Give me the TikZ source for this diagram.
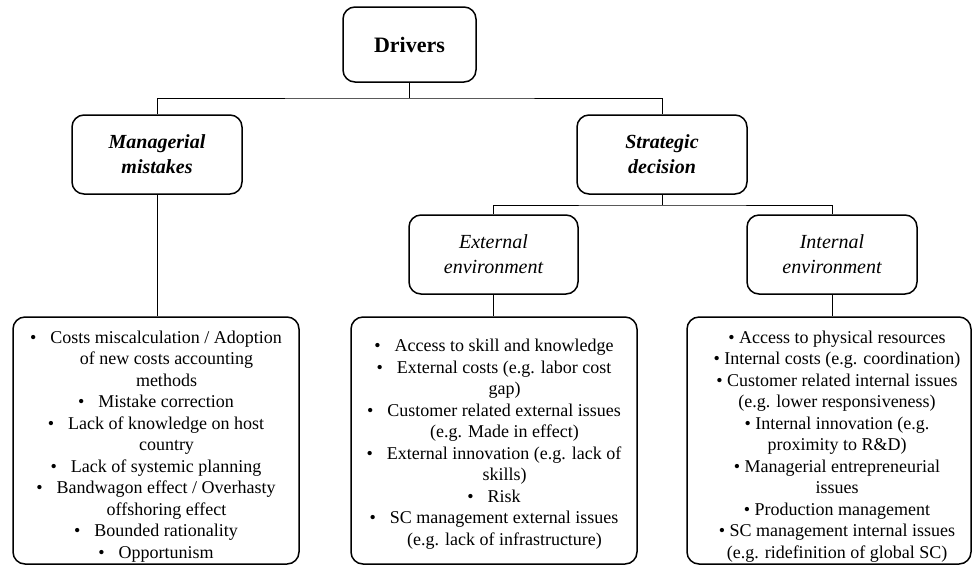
\documentclass[tikz,border=0pt]{standalone}
\usepackage{fontspec}
\setmainfont{Liberation Serif}
\newcommand\myb{\textbullet\hspace{14pt}}
\newcommand\myc{\hspace*{21pt}}
\newcommand\myr{\textbullet\ }
\begin{document}
\begin{tikzpicture}[x=1pt,y=-1pt,
  box/.style={draw, line width=1.5pt, rounded corners=12pt, inner sep=0pt},
  conn/.style={line width=1pt},
  headb/.style={font=\fontsize{20}{25}\selectfont\bfseries\itshape, align=center},
  headi/.style={font=\fontsize{20}{25}\selectfont\itshape, align=center},
  list/.style={font=\fontsize{18}{21.5}\selectfont, align=center, inner sep=0pt}]
\useasboundingbox (0,0) rectangle (973,566);

\node[box, minimum width=133pt, minimum height=75pt, font=\fontsize{22}{26}\selectfont\bfseries] (drv) at (409.5,44.5) {Drivers};
\node[box, headb, minimum width=170pt, minimum height=79pt] (mm) at (157,154.5) {Managerial\\mistakes};
\node[box, headb, minimum width=170pt, minimum height=79pt] (sd) at (662,154.5) {Strategic\\decision};
\node[box, headi, minimum width=169pt, minimum height=79pt] (ext) at (493.5,254.5) {External\\environment};
\node[box, headi, minimum width=170pt, minimum height=79pt] (int) at (832,254.5) {Internal\\environment};

\node[box, minimum width=286pt, minimum height=247pt] (lb) at (156,440.5) {};
\node[box, minimum width=286pt, minimum height=247pt] (mb) at (494,440.5) {};
\node[box, minimum width=284pt, minimum height=247pt] (rb) at (829,440.5) {};

\node[list] (lbt) at (156,446.5) {%
\myb Costs miscalculation / Adoption\\
\myc of new costs accounting\\
\myc methods\\
\myb Mistake correction\\
\myb Lack of knowledge on host\\
\myc country\\
\myb Lack of systemic planning\\
\myb Bandwagon effect / Overhasty\\
\myc offshoring effect\\
\myb Bounded rationality\\
\myb Opportunism};

\node[list] (mbt) at (494,444) {%
\myb Access to skill and knowledge\\
\myb External costs (e.g. labor cost\\
\myc gap)\\
\myb Customer related external issues\\
\myc (e.g. Made in effect)\\
\myb External innovation (e.g. lack of\\
\myc skills)\\
\myb Risk\\
\myb SC management external issues\\
\myc (e.g. lack of infrastructure)};

\node[list] (rbt) at (837,446.5) {%
\myr Access to physical resources\\
\myr Internal costs (e.g. coordination)\\
\myr Customer related internal issues\\
(e.g. lower responsiveness)\\
\myr Internal innovation (e.g.\\
proximity to R\&D)\\
\myr Managerial entrepreneurial\\
issues\\
\myr Production management\\
\myr SC management internal issues\\
(e.g. ridefinition of global SC)};

\coordinate (j1) at (409.5,98);
\coordinate (j2) at (662,205);
\draw[conn] (drv.south) -- (j1);
\draw[conn] (mm.north) |- (j1) -| (sd.north);
\draw[conn] (sd.south) -- (j2);
\draw[conn] (ext.north) |- (j2) -| (int.north);
\draw[conn] (mm.south) -- (mm.south |- lb.north);
\draw[conn] (ext.south) -- (ext.south |- mb.north);
\draw[conn] (int.south) -- (int.south |- rb.north);
\end{tikzpicture}
\end{document}
